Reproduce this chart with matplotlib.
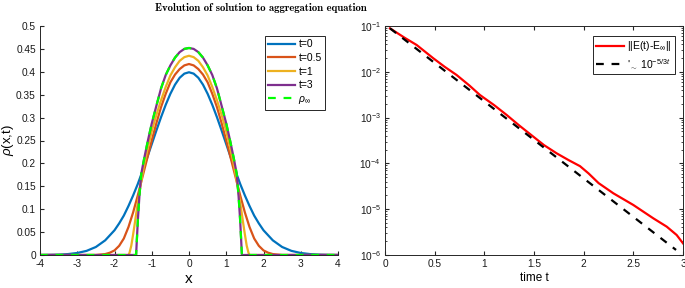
import numpy as np
import matplotlib.pyplot as plt

plt.rcParams['font.family'] = ['Liberation Sans', 'DejaVu Sans']
plt.rcParams['mathtext.fontset'] = 'custom'
plt.rcParams['mathtext.rm'] = 'Liberation Sans'
plt.rcParams['mathtext.it'] = 'Liberation Sans:italic'
plt.rcParams['axes.unicode_minus'] = False

# left panel: half profiles (x >= 0), mirrored to x < 0
x_t0 = [0, 0.125, 0.25, 0.375, 0.5, 0.625, 0.75, 0.875, 1.0, 1.125, 1.25, 1.375, 1.5,
        1.625, 1.75, 1.875, 2.0, 2.25, 2.5, 2.75, 3.0, 3.25, 3.5, 3.75, 4.0]
rho_t0 = [0.399, 0.396, 0.387, 0.372, 0.352, 0.328, 0.301, 0.272, 0.242, 0.212, 0.183,
          0.155, 0.130, 0.107, 0.086, 0.069, 0.054, 0.032, 0.0175, 0.009, 0.0044, 0.002,
          0.0009, 0.0004, 0.0001]

x_t05 = [0, 0.125, 0.25, 0.375, 0.5, 0.625, 0.75, 0.875, 1.0, 1.125, 1.25, 1.375, 1.5,
         1.625, 1.75, 1.875, 2.0, 2.125, 2.25, 2.5, 4.0]
rho_t05 = [0.417, 0.414, 0.406, 0.394, 0.377, 0.352, 0.323, 0.288, 0.250, 0.210, 0.170,
           0.130, 0.093, 0.061, 0.036, 0.020, 0.010, 0.005, 0.002, 0, 0]

x_t1 = [0, 0.125, 0.25, 0.375, 0.5, 0.625, 0.75, 0.875, 1.0, 1.1, 1.2, 1.3, 1.4, 1.45,
        1.5, 1.55, 1.6, 1.63, 4.0]
rho_t1 = [0.435, 0.432, 0.424, 0.410, 0.392, 0.367, 0.338, 0.306, 0.270, 0.236, 0.198,
          0.153, 0.100, 0.072, 0.045, 0.020, 0.004, 0, 0]

x_inf = [0, 0.125, 0.25, 0.375, 0.5, 0.625, 0.75, 0.875, 1.0, 1.1, 1.2, 1.28, 1.33,
         1.37, 1.40, 1.42, 4.0]
rho_inf = [0.452, 0.450, 0.443, 0.431, 0.414, 0.393, 0.364, 0.326, 0.287, 0.251, 0.212,
           0.178, 0.130, 0.080, 0.033, 0, 0]

# right panel (error read as log10 values)
t_err = [0.05, 0.2, 0.319, 0.487, 0.6, 0.721, 0.85, 0.956, 1.1, 1.225, 1.35, 1.493, 1.6,
         1.728, 1.85, 1.963, 2.05, 2.15, 2.299, 2.5, 2.701, 2.836, 2.936, 3.0]
err_log10 = [-1.051, -1.26, -1.415, -1.706, -1.89, -2.07, -2.30, -2.507, -2.73, -2.943,
             -3.17, -3.416, -3.60, -3.78, -3.93, -4.06, -4.22, -4.43, -4.653, -4.908,
             -5.199, -5.381, -5.563, -5.745]
t_ref = [0.05, 2.93]
ref = [0.089, 1.29e-6]


def mirror(xs, ys):
    xs = np.asarray(xs, float)
    ys = np.asarray(ys, float)
    return np.concatenate([-xs[:0:-1], xs]), np.concatenate([ys[:0:-1], ys])


fig = plt.figure(figsize=(6.85, 2.88), dpi=100)
fig.text(0.381, 0.972, 'Evolution of solution to aggregation equation',
         family='cmb10', fontsize=7.7, ha='center', va='center')

ax1 = fig.add_axes([40 / 685, 33 / 288, 298 / 685, 229 / 288])
lw = 1.6
ax1.plot(*mirror(x_t0, rho_t0), color='#0072BD', lw=lw, label='t=0')
ax1.plot(*mirror(x_t05, rho_t05), color='#D95319', lw=lw, label='t=0.5')
ax1.plot(*mirror(x_t1, rho_t1), color='#EDB120', lw=lw, label='t=1')
ax1.plot(*mirror(x_inf, rho_inf), color='#7E2F8E', lw=lw, label='t=3')
ax1.plot(*mirror(x_inf, rho_inf), color='#00FF00', lw=lw, ls=(0, (3.5, 3.5)),
         label=r'$\rho_\infty$')
ax1.set_xlim(-4, 4)
ax1.set_ylim(0, 0.5)
ax1.set_xticks(np.arange(-4, 5, 1))
ax1.set_yticks(np.arange(0, 0.51, 0.05))
ax1.set_yticklabels(['0', '0.05', '0.1', '0.15', '0.2', '0.25', '0.3', '0.35', '0.4', '0.45', '0.5'])
ax1.spines['top'].set_visible(False)
ax1.spines['right'].set_visible(False)
ax1.set_xlabel('x', fontsize=11, labelpad=2)
ax1.set_ylabel(r'$\rho$(x,t)', fontsize=9.5)
ax1.yaxis.set_label_coords(-0.08, 0.5)
leg1 = ax1.legend(loc='upper right', bbox_to_anchor=(0.975, 0.98), fontsize=7.5,
                  handlelength=2.6, handletextpad=0.3, borderpad=0.35, labelspacing=0.35,
                  fancybox=False, edgecolor='0.15', framealpha=1)
leg1.get_frame().set_linewidth(0.7)

ax2 = fig.add_axes([385 / 685, 33 / 288, 298 / 685, 229 / 288])
ax2.semilogy(t_err, 10 ** np.array(err_log10), color='red', lw=lw,
             label=r'||E(t)-E$_\infty$||')
ax2.semilogy(t_ref, ref, color='black', lw=lw, ls=(0, (3.5, 3.5)),
             label=r"'$_\sim$ 10$^{-5/3t}$")
ax2.set_xlim(0, 3)
ax2.set_ylim(1e-6, 1e-1)
ax2.set_xticks(np.arange(0, 3.01, 0.5))
ax2.set_xticklabels(['0', '0.5', '1', '1.5', '2', '2.5', '3'])
ax2.set_xlabel('time t', fontsize=8.5, labelpad=2)
leg2 = ax2.legend(loc='upper right', bbox_to_anchor=(0.99, 0.98), fontsize=7.5,
                  handlelength=2.6, handletextpad=0.3, borderpad=0.35, labelspacing=0.35,
                  fancybox=False, edgecolor='0.15', framealpha=1)
leg2.get_frame().set_linewidth(0.7)
ax2.tick_params(which='both', top=True, right=True)

for ax in (ax1, ax2):
    ax.tick_params(which='both', direction='in', labelsize=7.3, color='0.15',
                   labelcolor='0.1', pad=3)
    ax.tick_params(which='major', length=3)
    ax.tick_params(which='minor', length=1.6)
    for sp in ax.spines.values():
        sp.set_color('0.15')
        sp.set_linewidth(0.7)

fig.savefig('out.png', dpi=100)
